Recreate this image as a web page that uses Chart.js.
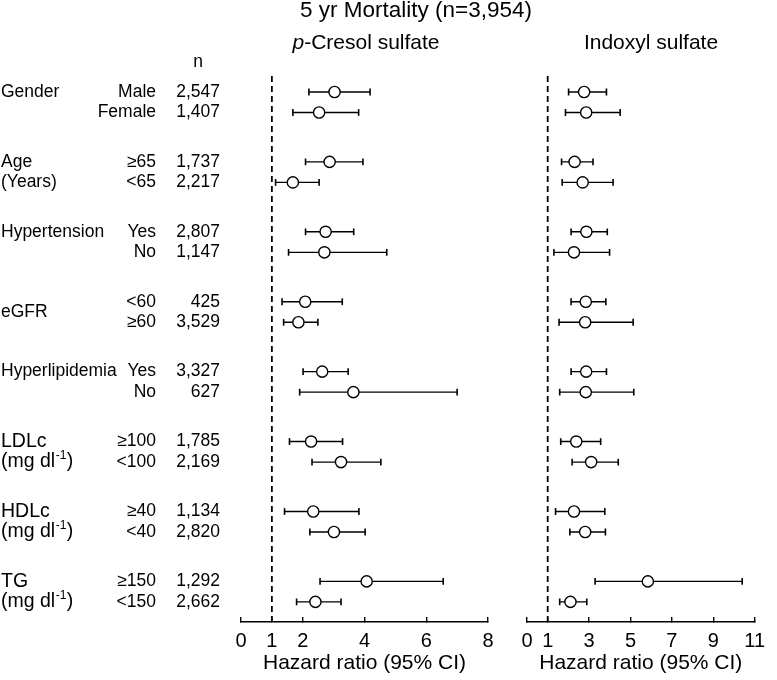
<!DOCTYPE html>
<html>
<head>
<meta charset="utf-8">
<script src="https://cdn.jsdelivr.net/npm/chart.js@4.4.0/dist/chart.umd.min.js"></script>
<style>
  body { margin: 0; background: #fff; }
  #quadro { position: relative; width: 777px; height: 680px; }
  #quadro canvas { position: absolute; left: 0; top: 0; }
</style>
</head>
<body>
<div id="quadro">
  <canvas id="graficoPcs" width="777" height="680"></canvas>
  <canvas id="graficoIs" width="777" height="680"></canvas>
</div>
<script>
// grupos e subgrupos
const grupos = ['Gender', 'Age', 'Hypertension', 'eGFR', 'Hyperlipidemia', 'LDLc', 'HDLc', 'TG']
const unidades = ['', '(Years)', '', '', '', 'mg dl-1', 'mg dl-1', 'mg dl-1']
const subgrupos = ['Male', 'Female', '≥65', '<65', 'Yes', 'No', '<60', '≥60',
  'Yes', 'No', '≥100', '<100', '≥40', '<40', '≥150', '<150']
const contagens = ['2,547', '1,407', '1,737', '2,217', '2,807', '1,147', '425', '3,529',
  '3,327', '627', '1,785', '2,169', '1,134', '2,820', '1,292', '2,662']

// p-Cresol sulfate
const pcsHR = [3.03, 2.53, 2.87, 1.68, 2.74, 2.70, 2.08, 1.86, 2.63, 3.64, 2.27, 3.24, 2.34, 3.01, 4.07, 2.41]
const pcsBaixo = [2.20, 1.68, 2.09, 1.12, 2.09, 1.54, 1.33, 1.38, 2.01, 1.90, 1.57, 2.30, 1.41, 2.23, 2.56, 1.80]
const pcsAlto = [4.18, 3.81, 3.95, 2.53, 3.65, 4.72, 3.28, 2.49, 3.47, 7.00, 3.29, 4.53, 3.82, 4.02, 6.55, 3.24]

// Indoxyl sulfate
const isHR = [2.76, 2.86, 2.30, 2.69, 2.87, 2.27, 2.84, 2.81, 2.86, 2.84, 2.38, 3.10, 2.27, 2.81, 5.84, 2.10]
const isBaixo = [2.01, 1.86, 1.67, 1.70, 2.13, 1.30, 2.13, 1.55, 2.13, 1.58, 1.63, 2.18, 1.38, 2.07, 3.29, 1.58]
const isAlto = [3.84, 4.50, 3.19, 4.16, 3.88, 3.99, 3.81, 5.13, 3.84, 5.16, 3.56, 4.41, 3.76, 3.79, 10.40, 2.89]

const ticksPcs = [0, 1, 2, 4, 6, 8]
const ticksIs = [0, 1, 3, 5, 7, 9, 11]

const fonte = "'Liberation Sans', Arial, sans-serif"
Chart.defaults.font.family = fonte
Chart.defaults.color = '#000'

// linhas: 2 por grupo, grupos separados
const Y_MIN = -0.78
const Y_MAX = 25.85
function posicao(i) {
  return Math.floor(i / 2) * 3.41 + (i % 2)
}
// linha do rotulo do grupo (eGFR fica no meio)
const linhaRotulo = [0, 0, 0, 0.5, 0, 0, 0, 0]

function montarDados(hr, baixo, alto) {
  const pontos = hr.map((v, i) => ({x: v, y: posicao(i)}))
  const barras = []
  const pontas = []
  baixo.forEach((v, i) => {
    barras.push({x: v, y: posicao(i)}, {x: alto[i], y: posicao(i)}, {x: null, y: null})
    pontas.push({x: v, y: posicao(i)}, {x: alto[i], y: posicao(i)})
  })
  return [
    {data: pontos, pointRadius: 5.6, pointHoverRadius: 5.6, pointBackgroundColor: '#fff',
      pointBorderColor: '#000', pointBorderWidth: 1.4, showLine: false},
    {data: pontas, pointStyle: 'line', pointRotation: 90, pointRadius: 3.4, pointHoverRadius: 3.4,
      pointBorderColor: '#000', pointBorderWidth: 1.6, showLine: false},
    {data: barras, showLine: true, pointRadius: 0, borderColor: '#000', borderWidth: 1.4, spanGaps: false},
    {data: [{x: 1, y: Y_MIN}, {x: 1, y: Y_MAX}], showLine: true, pointRadius: 0,
      borderColor: '#000', borderWidth: 1.8, borderDash: [6, 4]}
  ]
}

function desenharTitulo(ctx, partes, cx, cy, tamanho) {
  let largura = 0
  partes.forEach(p => {
    ctx.font = (p.italico ? 'italic ' : '') + tamanho + 'px ' + fonte
    largura += ctx.measureText(p.texto).width
  })
  let x = cx - largura / 2
  partes.forEach(p => {
    ctx.font = (p.italico ? 'italic ' : '') + tamanho + 'px ' + fonte
    ctx.fillText(p.texto, x, cy)
    x += ctx.measureText(p.texto).width
  })
}

function desenharUnidade(ctx, texto, x, y, tamanho) {
  if (texto.endsWith('-1')) {
    const base = '(' + texto.slice(0, -2)
    ctx.font = tamanho + 'px ' + fonte
    ctx.fillText(base, x, y)
    let w = ctx.measureText(base).width
    ctx.font = Math.round(tamanho * 0.62) + 'px ' + fonte
    ctx.fillText('-1', x + w + 0.5, y - tamanho * 0.33)
    w += ctx.measureText('-1').width + 1
    ctx.font = tamanho + 'px ' + fonte
    ctx.fillText(')', x + w, y)
  } else {
    ctx.font = tamanho + 'px ' + fonte
    ctx.fillText(texto, x, y)
  }
}

const rotulosEsquerda = {
  id: 'rotulosEsquerda',
  afterDraw(chart) {
    const ctx = chart.ctx
    const y = chart.scales.y
    ctx.save()
    ctx.fillStyle = '#000'
    ctx.textBaseline = 'middle'

    ctx.textAlign = 'center'
    ctx.font = '22.5px ' + fonte
    ctx.fillText('5 yr Mortality (n=3,954)', 416, 11)
    ctx.font = '17.5px ' + fonte
    ctx.fillText('n', 198, 62)

    grupos.forEach((g, k) => {
      const grande = unidades[k].endsWith('-1')
      const tam = grande ? 19.5 : 17.5
      ctx.textAlign = 'left'
      ctx.font = tam + 'px ' + fonte
      ctx.fillText(g, 1, y.getPixelForValue(posicao(2 * k) + linhaRotulo[k]))
      if (unidades[k]) {
        desenharUnidade(ctx, unidades[k], 1, y.getPixelForValue(posicao(2 * k + 1)), tam)
      }
    })

    ctx.font = '17.5px ' + fonte
    subgrupos.forEach((s, i) => {
      const py = y.getPixelForValue(posicao(i))
      ctx.textAlign = 'right'
      ctx.fillText(s, 156, py)
      ctx.fillText(contagens[i], 220, py)
    })
    ctx.restore()
  }
}

const tituloPainel = {
  id: 'tituloPainel',
  afterDraw(chart, args, opts) {
    const ctx = chart.ctx
    ctx.save()
    ctx.fillStyle = '#000'
    ctx.textAlign = 'left'
    ctx.textBaseline = 'middle'
    desenharTitulo(ctx, opts.partes, opts.x, 43, 21)
    ctx.restore()
  }
}

function criarGrafico(canvas, dados, ticks, xMax, esquerda, direita, partes, tituloX, extras) {
  return new Chart(canvas, {
    type: 'scatter',
    data: {datasets: dados},
    options: {
      responsive: false,
      animation: false,
      layout: {padding: {left: esquerda, right: direita, top: 76, bottom: 0}},
      plugins: {
        legend: {display: false},
        tooltip: {enabled: false},
        tituloPainel: {partes: partes, x: tituloX}
      },
      scales: {
        x: {
          type: 'linear',
          min: 0,
          max: xMax,
          afterBuildTicks: s => { s.ticks = ticks.map(v => ({value: v})) },
          afterFit: s => { s.height = 58 },
          border: {display: true, color: '#000', width: 1.4},
          grid: {drawOnChartArea: false, drawTicks: true, tickLength: -5, color: '#000', lineWidth: 1.4},
          ticks: {font: {size: 20}, color: '#000', padding: 12, maxRotation: 0, autoSkip: false},
          title: {display: true, text: 'Hazard ratio (95% CI)', font: {size: 21}, color: '#000',
            padding: {top: 0, bottom: 4}}
        },
        y: {type: 'linear', min: Y_MIN, max: Y_MAX, reverse: true, display: false}
      }
    },
    plugins: [tituloPainel].concat(extras)
  })
}

const graficoPcs = criarGrafico(document.getElementById('graficoPcs'),
  montarDados(pcsHR, pcsBaixo, pcsAlto), ticksPcs, 8, 241, 777 - 488,
  [{texto: 'p', italico: true}, {texto: '-Cresol sulfate'}], 366, [rotulosEsquerda])

const graficoIs = criarGrafico(document.getElementById('graficoIs'),
  montarDados(isHR, isBaixo, isAlto), ticksIs, 11, 527, 12,
  [{texto: 'Indoxyl sulfate'}], 651, [])
</script>
</body>
</html>
